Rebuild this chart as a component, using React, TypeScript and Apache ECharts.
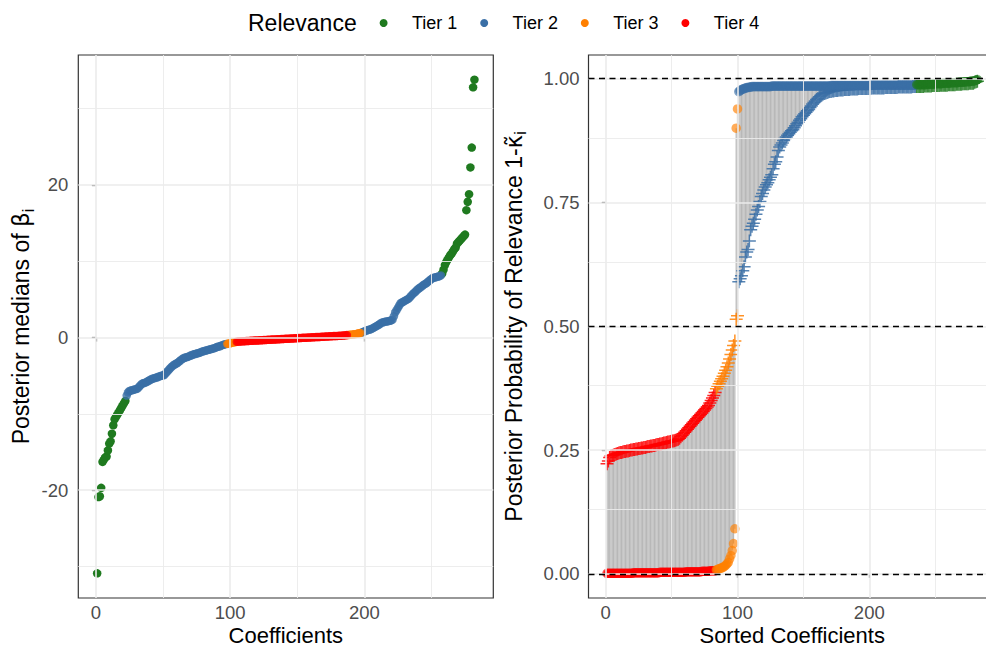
import React, { useEffect, useRef } from 'react';
import * as echarts from 'echarts';

const FONT = "'Liberation Sans', Arial, Helvetica, sans-serif";

const tierNames = ['Tier 1', 'Tier 2', 'Tier 3', 'Tier 4'];
const tierColors = ['#1F7A1F', '#3A6FA6', '#FF7F00', '#FF0000'];

// Posterior medians of beta_i, in coefficient order, split by tier runs
const medTier1Low = [-30.9, -20.9, -20.8, -19.7, -16.3, -16.0, -15.7, -15.6, -14.8, -13.9, -13.6, -12.6, -11.5, -10.7, -10.4, -10.1, -9.8, -9.5, -9.2, -8.9, -8.6, -8.3];
const medTier2Low = [
  -7.6, -7.2, -7.0, -6.95, -6.9, -6.85, -6.8, -6.75, -6.7, -6.5,
  -6.3, -6.1, -6.0, -5.95, -5.9, -5.8, -5.7, -5.6, -5.5, -5.4,
  -5.35, -5.3, -5.25, -5.2, -5.1, -5.05, -5.0, -4.95, -4.9, -4.7,
  -4.5, -4.3, -4.1, -3.9, -3.75, -3.6, -3.5, -3.4, -3.3, -3.15,
  -3.0, -2.85, -2.75, -2.65, -2.6, -2.55, -2.5, -2.4, -2.35, -2.25,
  -2.2, -2.15, -2.1, -2.05, -2.0, -1.95, -1.85, -1.8, -1.75, -1.7,
  -1.65, -1.6, -1.55, -1.5, -1.45, -1.4, -1.35, -1.25, -1.2, -1.15,
  -1.1, -1.0, -0.95, -0.9, -0.85,
];
const medTier3Low = [-0.82, -0.78, -0.74, -0.7, -0.66, -0.62, -0.58];
const medTier4 = [
  -0.55, -0.53, -0.51, -0.5, -0.49, -0.48, -0.47, -0.46, -0.45, -0.44,
  -0.43, -0.42, -0.41, -0.4, -0.39, -0.38, -0.37, -0.36, -0.35, -0.34,
  -0.33, -0.32, -0.31, -0.3, -0.29, -0.28, -0.27, -0.26, -0.25, -0.24,
  -0.23, -0.22, -0.21, -0.2, -0.19, -0.18, -0.17, -0.16, -0.15, -0.14,
  -0.13, -0.12, -0.11, -0.1, -0.09, -0.08, -0.07, -0.06, -0.05, -0.04,
  -0.03, -0.02, -0.01, 0.0, 0.01, 0.02, 0.03, 0.04, 0.05, 0.06,
  0.07, 0.08, 0.09, 0.1, 0.11, 0.12, 0.13, 0.14, 0.15, 0.16,
  0.17, 0.18, 0.19, 0.2, 0.21, 0.22, 0.23, 0.24, 0.25, 0.26,
  0.28, 0.3, 0.32,
];
const medTier3High = [0.34, 0.36, 0.38, 0.4, 0.42, 0.45, 0.48, 0.52, 0.56, 0.6];
const medTier2High = [
  0.65, 0.72, 0.8, 0.88, 0.95, 1.0, 1.05, 1.1, 1.2, 1.3,
  1.4, 1.5, 1.6, 1.7, 1.85, 1.95, 2.0, 2.05, 2.1, 2.12,
  2.15, 2.2, 2.25, 2.35, 2.8, 3.3, 3.6, 3.9, 4.2, 4.5,
  4.6, 4.7, 4.8, 4.9, 5.0, 5.1, 5.3, 5.5, 5.7, 5.85,
  6.0, 6.2, 6.35, 6.5, 6.6, 6.75, 6.9, 7.0, 7.1, 7.25,
  7.4, 7.55, 7.7, 7.8, 7.85, 7.9, 7.95, 8.0, 8.05, 8.15,
];
const medTier1High = [8.4, 8.9, 9.5, 9.9, 10.2, 10.5, 10.8, 11.0, 11.3, 11.6, 11.8, 12.3, 12.5, 12.7, 12.9, 13.1, 13.3, 13.5, 16.7, 17.8, 18.8, 22.3, 24.9, 32.8, 33.8];

// Posterior probability of relevance, sorted: circle value and cross value per coefficient
const probDotTier4 = [
  0.001, 0.001, 0.001, 0.001, 0.001, 0.001, 0.001, 0.001, 0.001, 0.001,
  0.001, 0.001, 0.001, 0.001, 0.001, 0.001, 0.001, 0.001, 0.001, 0.001,
  0.002, 0.002, 0.002, 0.002, 0.002, 0.002, 0.002, 0.002, 0.002, 0.002,
  0.002, 0.002, 0.002, 0.002, 0.002, 0.002, 0.002, 0.002, 0.002, 0.002,
  0.003, 0.003, 0.003, 0.003, 0.003, 0.003, 0.003, 0.003, 0.003, 0.003,
  0.003, 0.003, 0.003, 0.003, 0.003, 0.003, 0.003, 0.003, 0.003, 0.003,
  0.004, 0.004, 0.004, 0.004, 0.004, 0.004, 0.004, 0.004, 0.004, 0.004,
  0.004, 0.004, 0.005, 0.005, 0.005, 0.005, 0.005, 0.005, 0.006, 0.006,
  0.006, 0.006, 0.006,
];
const probCrossTier4 = [
  0.2225, 0.228, 0.235, 0.238, 0.239, 0.24, 0.241, 0.242, 0.243, 0.244,
  0.245, 0.245, 0.246, 0.247, 0.247, 0.248, 0.248, 0.249, 0.25, 0.25,
  0.251, 0.251, 0.252, 0.252, 0.253, 0.253, 0.254, 0.254, 0.255, 0.255,
  0.256, 0.257, 0.257, 0.258, 0.258, 0.259, 0.259, 0.26, 0.261, 0.261,
  0.262, 0.262, 0.263, 0.264, 0.264, 0.265, 0.266, 0.266, 0.267, 0.268,
  0.268, 0.269, 0.27, 0.271, 0.272, 0.274, 0.277, 0.28, 0.283, 0.286,
  0.289, 0.292, 0.295, 0.298, 0.301, 0.304, 0.307, 0.31, 0.313, 0.316,
  0.319, 0.322, 0.325, 0.328, 0.331, 0.334, 0.337, 0.34, 0.345, 0.35,
  0.355, 0.36, 0.366,
];
const probDotTier3 = [0.008, 0.009, 0.01, 0.011, 0.012, 0.013, 0.015, 0.017, 0.02, 0.023, 0.03, 0.037, 0.047, 0.061, 0.091, 0.9, 0.939];
const probCrossTier3 = [0.374, 0.379, 0.384, 0.389, 0.394, 0.399, 0.405, 0.411, 0.418, 0.426, 0.434, 0.443, 0.452, 0.461, 0.47, 0.514, 0.521];
const probDotTier2 = [
  0.974, 0.976, 0.978, 0.979, 0.98, 0.981, 0.982, 0.982, 0.983, 0.983,
  0.984, 0.984, 0.984, 0.984, 0.984, 0.984, 0.984, 0.984, 0.984, 0.984,
  0.984, 0.984, 0.984, 0.984, 0.984,
  0.985, 0.985, 0.985, 0.985, 0.985, 0.985, 0.985, 0.985, 0.985, 0.985,
  0.985, 0.985, 0.985, 0.985, 0.985, 0.985, 0.985, 0.985, 0.985, 0.985,
  0.985, 0.985, 0.985, 0.985, 0.985, 0.985, 0.985, 0.985, 0.985, 0.985,
  0.985, 0.985, 0.985, 0.985, 0.985, 0.985, 0.985, 0.985, 0.985, 0.985,
  0.985, 0.985, 0.985, 0.985, 0.985,
  0.986, 0.986, 0.986, 0.986, 0.986, 0.986, 0.986, 0.986, 0.986, 0.986,
  0.986, 0.986, 0.986, 0.986, 0.986, 0.986, 0.986, 0.986, 0.986, 0.986,
  0.986, 0.986, 0.986, 0.986, 0.986, 0.986, 0.986, 0.986, 0.986, 0.986,
  0.987, 0.987, 0.987, 0.987, 0.987, 0.987, 0.987, 0.987, 0.987, 0.987,
  0.987, 0.987, 0.987, 0.987, 0.987, 0.987, 0.987, 0.987, 0.987, 0.987,
  0.987, 0.987, 0.987, 0.987, 0.987, 0.987, 0.987, 0.987, 0.987, 0.987,
  0.987, 0.987, 0.987, 0.987, 0.987,
];
const probCrossTier2 = [
  0.59, 0.596, 0.602, 0.612, 0.62, 0.64, 0.65, 0.655, 0.672, 0.695,
  0.702, 0.708, 0.716, 0.726, 0.735, 0.742, 0.752, 0.762, 0.768, 0.775,
  0.781, 0.786, 0.79, 0.796, 0.801, 0.806, 0.818, 0.827, 0.832, 0.842,
  0.855, 0.862, 0.866, 0.87, 0.875, 0.879, 0.882, 0.886, 0.889, 0.892,
  0.895, 0.897, 0.901, 0.905, 0.909, 0.912, 0.916, 0.919, 0.923, 0.926,
  0.929, 0.932, 0.935, 0.938, 0.942, 0.945, 0.949, 0.952, 0.955, 0.958,
  0.96, 0.963, 0.965, 0.967, 0.969, 0.97, 0.971, 0.972, 0.973, 0.974,
  0.974,
  0.975, 0.975, 0.976, 0.976, 0.976, 0.977, 0.977, 0.977, 0.977, 0.978,
  0.978, 0.978, 0.978, 0.978, 0.979, 0.979, 0.979, 0.979, 0.979, 0.979,
  0.98, 0.98, 0.98, 0.98, 0.98, 0.98, 0.98, 0.98, 0.98, 0.98,
  0.981, 0.981, 0.981, 0.981, 0.981, 0.981, 0.981, 0.981, 0.981, 0.981,
  0.982, 0.982, 0.982, 0.982, 0.982, 0.982, 0.982, 0.982, 0.982, 0.982,
  0.983, 0.983, 0.983, 0.983, 0.983, 0.983, 0.983, 0.983, 0.983, 0.983,
  0.983, 0.984, 0.984, 0.984,
];
const probDotTier1 = [
  0.988, 0.988, 0.988, 0.988, 0.988, 0.988, 0.988, 0.988,
  0.989, 0.989, 0.989, 0.989, 0.989, 0.989,
  0.99, 0.99, 0.99, 0.99, 0.99, 0.99,
  0.991, 0.991, 0.991, 0.991, 0.991, 0.991,
  0.992, 0.992, 0.992, 0.992, 0.992, 0.992,
  0.993, 0.993, 0.993, 0.993, 0.993,
  0.994, 0.994, 0.994, 0.994,
  0.995, 0.995, 0.995,
  0.996, 0.997, 0.998,
];
const probCrossTier1 = [
  0.984, 0.984, 0.984, 0.984, 0.984, 0.984,
  0.985, 0.985, 0.985, 0.985, 0.985, 0.985,
  0.986, 0.986, 0.986, 0.986, 0.986, 0.986,
  0.987, 0.987, 0.987, 0.987, 0.987, 0.987,
  0.988, 0.988, 0.988, 0.988, 0.988, 0.988,
  0.989, 0.989, 0.989, 0.989, 0.989,
  0.99, 0.99, 0.99, 0.99, 0.99,
  0.991, 0.991, 0.991, 0.991,
  0.993, 0.994, 0.995,
];

const coefTicks = [0, 100, 200];
const coefMinor = [50, 150, 250];
const medianTicks = [-20, 0, 20];
const medianMinor = [-30, -10, 10, 30];
const probTicks = [0, 0.25, 0.5, 0.75, 1];
const probMinor = [0.125, 0.375, 0.625, 0.875];
const probRefLines = [0, 0.5, 1];

// Runs of coefficients (index order) with their tier
const medianRuns: [number, number[]][] = [
  [0, medTier1Low], [1, medTier2Low], [2, medTier3Low], [3, medTier4],
  [2, medTier3High], [1, medTier2High], [0, medTier1High],
];
const probRuns: [number, number[], number[]][] = [
  [3, probDotTier4, probCrossTier4],
  [2, probDotTier3, probCrossTier3],
  [1, probDotTier2, probCrossTier2],
  [0, probDotTier1, probCrossTier1],
];

function padded(vals: number[]): [number, number] {
  const lo = Math.min(...vals);
  const hi = Math.max(...vals);
  const pad = (hi - lo) * 0.05;
  return [lo - pad, hi + pad];
}

const GRID_MAJOR = { color: '#EBEBEB', width: 1.6, type: 'solid' };
const GRID_MINOR = { color: '#EBEBEB', width: 0.9, type: 'solid' };

function gridLines(xMajor: number[], xMinor: number[], yMajor: number[], yMinor: number[]) {
  return [
    ...xMinor.map((v) => ({ xAxis: v, lineStyle: GRID_MINOR })),
    ...yMinor.map((v) => ({ yAxis: v, lineStyle: GRID_MINOR })),
    ...xMajor.map((v) => ({ xAxis: v, lineStyle: GRID_MAJOR })),
    ...yMajor.map((v) => ({ yAxis: v, lineStyle: GRID_MAJOR })),
  ];
}

// Legend row: title, then a dot and label per tier
const LEGEND_Y = 23;
const LEGEND_DOT_X0 = 383.6;
const LEGEND_STEP = 100.6;
const LEGEND_TEXT_GAP = 28.4;

function legendGraphics() {
  const items: any[] = [
    {
      type: 'text', x: 248, y: LEGEND_Y,
      style: { text: 'Relevance', fontSize: 23, fontFamily: FONT, fill: '#000000', verticalAlign: 'middle', align: 'left' },
    },
  ];
  tierNames.forEach((name, k) => {
    const cx = LEGEND_DOT_X0 + k * LEGEND_STEP;
    items.push({ type: 'circle', shape: { cx, cy: LEGEND_Y, r: 4 }, style: { fill: tierColors[k] } });
    items.push({
      type: 'text', x: cx + LEGEND_TEXT_GAP, y: LEGEND_Y,
      style: { text: name, fontSize: 18, fontFamily: FONT, fill: '#000000', verticalAlign: 'middle', align: 'left' },
    });
  });
  return items;
}

function buildOption() {
  // left panel points
  const medByTier: number[][][] = [[], [], [], []];
  let idx = 1;
  for (const [tier, vals] of medianRuns) {
    for (const v of vals) {
      medByTier[tier].push([idx, v]);
      idx += 1;
    }
  }
  const nMed = idx - 1;

  // right panel points and segments
  const dotByTier: number[][][] = [[], [], [], []];
  const crossByTier: number[][][] = [[], [], [], []];
  const segs: number[][] = [];
  const allProb: number[] = [];
  let j = 1;
  for (const [tier, dots, crosses] of probRuns) {
    dots.forEach((d, k) => {
      const c = crosses[k];
      dotByTier[tier].push([j, d]);
      crossByTier[tier].push([j, c]);
      segs.push([j, Math.min(d, c), Math.max(d, c)]);
      allProb.push(d, c);
      j += 1;
    });
  }
  const nProb = j - 1;

  const allMed = medianRuns.flatMap((r) => r[1]);
  const medX = padded([1, nMed]);
  const medY = padded(allMed);
  const probX = padded([1, nProb]);
  const probY = padded(allProb);

  const tickStyle = { show: true, length: 4, lineStyle: { color: '#333333', width: 1.2 } };
  const labelBase = { fontSize: 18.5, color: '#4D4D4D', fontFamily: FONT };
  const xNameStyle = { fontSize: 22, color: '#000000', fontFamily: FONT, lineHeight: 22 };
  const richName = {
    fontSize: 23, color: '#000000', fontFamily: FONT,
    rich: {
      a: { fontSize: 23, fontFamily: FONT, color: '#000000', lineHeight: 30 },
      b: { fontSize: 23, fontFamily: "'DejaVu Sans', sans-serif", color: '#000000', lineHeight: 30 },
      s: { fontSize: 16, fontFamily: FONT, color: '#000000', lineHeight: 16, verticalAlign: 'bottom' },
    },
  };

  const series: any[] = [];

  series.push({
    type: 'scatter', name: 'gridL', xAxisIndex: 0, yAxisIndex: 0, data: [], z: 1, silent: true,
    markLine: {
      silent: true, symbol: ['none', 'none'], label: { show: false }, emphasis: { disabled: true },
      data: gridLines(coefTicks, coefMinor, medianTicks, medianMinor),
    },
  });
  for (let t = 0; t < 4; t++) {
    series.push({
      type: 'scatter', name: tierNames[t], xAxisIndex: 0, yAxisIndex: 0,
      data: medByTier[t], symbol: 'circle', symbolSize: 8.5, z: 3,
      itemStyle: { color: tierColors[t], opacity: t === 0 ? 1 : 0.8 },
      emphasis: { disabled: true },
    });
  }

  series.push({
    type: 'scatter', name: 'gridR', xAxisIndex: 1, yAxisIndex: 1, data: [], z: 1, silent: true,
    markLine: {
      silent: true, symbol: ['none', 'none'], label: { show: false }, emphasis: { disabled: true },
      data: [
        ...gridLines(coefTicks, coefMinor, probTicks, probMinor),
        ...probRefLines.map((v) => ({ yAxis: v, lineStyle: { color: '#000000', width: 1.3, type: [6, 4.5] } })),
      ],
    },
  });
  series.push({
    type: 'custom', name: 'span', xAxisIndex: 1, yAxisIndex: 1, z: 2, silent: true,
    data: segs, encode: { x: 0, y: [1, 2] },
    renderItem: (_p: any, api: any) => {
      const a = api.coord([api.value(0), api.value(1)]);
      const b = api.coord([api.value(0), api.value(2)]);
      return {
        type: 'line',
        shape: { x1: a[0], y1: a[1], x2: b[0], y2: b[1] },
        style: { stroke: '#A6A6A6', opacity: 0.8, lineWidth: 1.2 },
      };
    },
  });
  for (let t = 3; t >= 0; t--) {
    series.push({
      type: 'scatter', name: tierNames[t], xAxisIndex: 1, yAxisIndex: 1,
      data: crossByTier[t], symbol: 'path://M0,5L10,5M5,0L5,10', symbolSize: 13, z: 3,
      itemStyle: { color: 'none', borderColor: tierColors[t], borderWidth: 1.5, opacity: 0.85 },
      emphasis: { disabled: true },
    });
  }
  for (let t = 3; t >= 0; t--) {
    series.push({
      type: 'scatter', name: tierNames[t], xAxisIndex: 1, yAxisIndex: 1,
      data: dotByTier[t], symbol: 'circle', symbolSize: 9.5, z: 4,
      itemStyle: { color: tierColors[t], opacity: 0.65 },
      emphasis: { disabled: true },
    });
  }

  return {
    animation: false,
    backgroundColor: '#FFFFFF',
    textStyle: { fontFamily: FONT },
    graphic: legendGraphics(),
    grid: [
      {
        left: 78.3, right: 492.7, top: 55, bottom: 50, outerBoundsMode: 'none', containLabel: false,
        show: true, borderColor: '#333333', borderWidth: 1.2, backgroundColor: 'transparent',
      },
      {
        left: 588.5, right: -9.9, top: 55, bottom: 50, outerBoundsMode: 'none', containLabel: false,
        show: true, borderColor: '#333333', borderWidth: 1.2, backgroundColor: 'transparent',
      },
    ],
    xAxis: [
      {
        type: 'value', gridIndex: 0, min: medX[0], max: medX[1],
        axisLine: { show: false }, splitLine: { show: false },
        axisTick: { ...tickStyle, customValues: coefTicks },
        axisLabel: { ...labelBase, margin: 5, customValues: coefTicks },
        name: 'Coefficients', nameLocation: 'middle', nameGap: 26.5, nameMoveOverlap: false,
        nameTextStyle: xNameStyle,
      },
      {
        type: 'value', gridIndex: 1, min: probX[0], max: probX[1],
        axisLine: { show: false }, splitLine: { show: false },
        axisTick: { ...tickStyle, customValues: coefTicks },
        axisLabel: { ...labelBase, margin: 5, customValues: coefTicks },
        name: 'Sorted Coefficients', nameLocation: 'middle', nameGap: 26.5, nameMoveOverlap: false,
        nameTextStyle: xNameStyle,
      },
    ],
    yAxis: [
      {
        type: 'value', gridIndex: 0, min: medY[0], max: medY[1],
        axisLine: { show: false }, splitLine: { show: false },
        axisTick: { ...tickStyle, customValues: medianTicks },
        axisLabel: { ...labelBase, margin: 10, customValues: medianTicks },
        name: '{a|Posterior medians of }{b|β}{s|i}', nameLocation: 'middle', nameGap: 42,
        nameTextStyle: richName,
      },
      {
        type: 'value', gridIndex: 1, min: probY[0], max: probY[1],
        axisLine: { show: false }, splitLine: { show: false },
        axisTick: { ...tickStyle, customValues: probTicks },
        axisLabel: { ...labelBase, margin: 9, customValues: probTicks, formatter: (v: number) => v.toFixed(2) },
        name: '{a|Posterior Probability of Relevance 1-}{b|\u03BA\u0303}{s|i}', nameLocation: 'middle', nameGap: 60,
        nameTextStyle: richName,
      },
    ],
    series,
  };
}

export default function App() {
  const ref = useRef<HTMLDivElement>(null);
  useEffect(() => {
    if (!ref.current) return;
    const chart = echarts.init(ref.current, null, { renderer: 'svg' });
    chart.setOption(buildOption() as any);
    return () => chart.dispose();
  }, []);
  return (
    <div
      ref={ref}
      style={{ position: 'fixed', left: 0, top: 0, width: 986, height: 648, background: '#FFFFFF' }}
    />
  );
}
